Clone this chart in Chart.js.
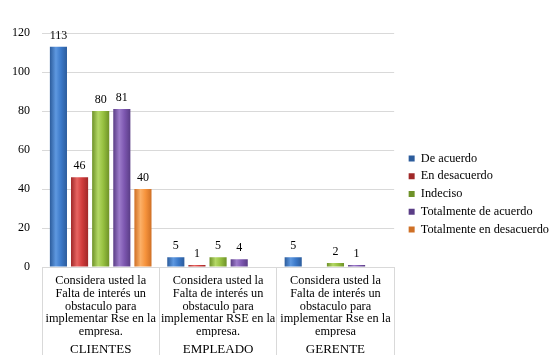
<!DOCTYPE html>
<html>
<head>
<meta charset="utf-8">
<script src="https://cdn.jsdelivr.net/npm/chart.js@4/dist/chart.umd.min.js"></script>
<style>
  body { margin: 0; background: #fff; }
  #wrap { width: 550px; height: 355px; }
</style>
</head>
<body>
<div id="wrap"><canvas id="chart"></canvas></div>
<script>
// datos
const categories = [
    ['Considera usted la', 'Falta de interés un', 'obstaculo para', 'implementar Rse en la', 'empresa.'],
    ['Considera usted la', 'Falta de interés un', 'obstaculo para', 'implementar RSE en la', 'empresa.'],
    ['Considera usted la', 'Falta de interés un', 'obstaculo para', 'implementar Rse en la', 'empresa']
];
const groups = ['CLIENTES', 'EMPLEADO', 'GERENTE'];
const deAcuerdo = [113, 5, 5];
const enDesacuerdo = [46, 1, null];
const indeciso = [80, 5, 2];
const totalmenteDeAcuerdo = [81, 4, 1];
const totalmenteEnDesacuerdo = [40, null, null];
const yMax = 120;
const yStep = 20;

const serif = 'Liberation Serif';

// gradiente horizontal tipo "3D" de Office
function barFill(base, light, dark) {
    return function (c) {
        const el = c.element;
        if (!el || !el.width || isNaN(el.x)) return base;
        const g = c.chart.ctx.createLinearGradient(el.x - el.width / 2, 0, el.x + el.width / 2, 0);
        g.addColorStop(0, dark);
        g.addColorStop(0.35, light);
        g.addColorStop(0.65, base);
        g.addColorStop(1, dark);
        return g;
    };
}

// etiquetas de valor encima de las barras
const valueLabels = {
    id: 'valueLabels',
    afterDatasetsDraw(chart) {
        const ctx = chart.ctx;
        ctx.save();
        ctx.font = '12px "' + serif + '"';
        ctx.fillStyle = '#000';
        ctx.textAlign = 'center';
        ctx.textBaseline = 'bottom';
        chart.data.datasets.forEach((ds, i) => {
            chart.getDatasetMeta(i).data.forEach((bar, j) => {
                const v = ds.data[j];
                if (v === null || v === undefined) return;
                ctx.fillText(v, bar.x, bar.y - 5);
            });
        });
        ctx.restore();
    }
};

const ctx = document.querySelector('#chart').getContext('2d');
const chart = new Chart(ctx, {
    type: 'bar',
    plugins: [valueLabels],
    data: {
        labels: categories,
        datasets: [{
            label: 'De acuerdo',
            data: deAcuerdo,
            backgroundColor: barFill('#3b79c9', '#5e98e0', '#2c5c9c')
        },
            {
                label: 'En desacuerdo',
                data: enDesacuerdo,
                backgroundColor: barFill('#d13b3b', '#e76461', '#a02828')
            },
            {
                label: 'Indeciso',
                data: indeciso,
                backgroundColor: barFill('#96c040', '#b4d866', '#6e9228')
            },
            {
                label: 'Totalmente de acuerdo',
                data: totalmenteDeAcuerdo,
                backgroundColor: barFill('#7d57b0', '#9d7ccb', '#5a3d86')
            },
            {
                label: 'Totalmente en desacuerdo',
                data: totalmenteEnDesacuerdo,
                backgroundColor: barFill('#f6933c', '#fbb068', '#cf7026')
            }
        ]
    },
    options: {
        responsive: true,
        maintainAspectRatio: false,
        animation: false,
        categoryPercentage: 0.9,
        barPercentage: 0.81,
        layout: {
            padding: {top: 33, left: 0, right: -9, bottom: 0}
        },
        scales: {
            x: {
                grid: {
                    offset: true,
                    drawOnChartArea: false,
                    color: '#d9d9d9',
                    tickLength: 70
                },
                border: {
                    color: '#d9d9d9'
                },
                ticks: {
                    autoSkip: false,
                    maxRotation: 0,
                    padding: -62,
                    color: '#000',
                    font: {family: serif, size: 12.3, lineHeight: 1.02}
                },
                afterFit: function (scale) {
                    scale.height = 70;
                }
            },
            x2: {
                type: 'category',
                position: 'bottom',
                labels: groups,
                offset: true,
                grid: {
                    offset: true,
                    drawOnChartArea: false,
                    color: '#d9d9d9',
                    tickLength: 18
                },
                border: {
                    display: false
                },
                ticks: {
                    padding: -12,
                    color: '#000',
                    font: {family: serif, size: 13, lineHeight: 1}
                },
                afterFit: function (scale) {
                    scale.height = 18;
                }
            },
            y: {
                min: 0,
                max: yMax,
                ticks: {
                    stepSize: yStep,
                    padding: 12,
                    color: '#000',
                    font: {family: serif, size: 12}
                },
                grid: {
                    color: '#d9d9d9',
                    drawTicks: false
                },
                border: {
                    display: false
                }
            },
            // eje vacío: solo deja aire entre el gráfico y la leyenda
            gap: {
                position: 'right',
                grid: {display: false},
                ticks: {display: false},
                border: {display: false},
                afterFit: function (scale) {
                    scale.width = 9;
                }
            }
        },
        plugins: {
            legend: {
                position: 'right',
                maxWidth: 200,
                labels: {
                    boxWidth: 6,
                    boxHeight: 6,
                    padding: 5.5,
                    color: '#000',
                    font: {family: serif, size: 12.3}
                }
            },
            tooltip: {
                enabled: false
            }
        }
    }
});
chart.update();
</script>
</body>
</html>
